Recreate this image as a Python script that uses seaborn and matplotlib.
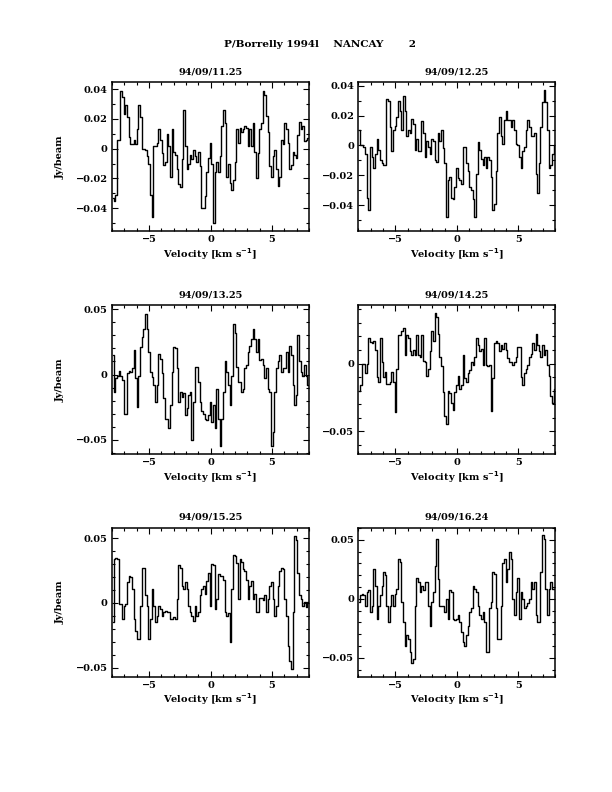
import numpy as np
import pandas as pd
import seaborn as sns
import matplotlib.pyplot as plt
from matplotlib.ticker import MultipleLocator, FuncFormatter

# Spectres NANCAY, P/Borrelly 1994l (Jy/beam, canaux reguliers de -8 a 8 km/s)
dates = ["94/09/11.25", "94/09/12.25", "94/09/13.25",
         "94/09/14.25", "94/09/15.25", "94/09/16.24"]

spec_1125 = [-0.033, -0.035, -0.031, 0.006, 0.006, 0.039, 0.035, 0.023, 0.029, 0.021,
             0.008, 0.003, 0.003, 0.006, 0.003, 0.013, 0.029, 0.021, 0.000, 0.000,
             -0.001, -0.005, -0.010, -0.031, -0.046, 0.002, 0.002, 0.004, 0.013, 0.006,
             -0.003, -0.011, -0.009, 0.010, 0.002, -0.019, 0.013, -0.002, -0.004, -0.014,
             -0.024, -0.026, -0.007, 0.026, 0.002, -0.014, -0.010, -0.004, -0.007, -0.001,
             -0.005, -0.009, -0.002, -0.012, -0.040, -0.040, -0.032, -0.016, -0.006, 0.004,
             -0.010, -0.050, -0.016, -0.009, -0.016, -0.005, 0.015, 0.026, 0.017, -0.019,
             -0.010, -0.023, -0.028, -0.021, -0.009, 0.013, 0.004, 0.014, 0.011, 0.013,
             0.015, 0.014, 0.002, 0.013, 0.002, 0.017, -0.002, -0.020, -0.003, 0.013,
             0.017, 0.039, 0.036, 0.022, 0.011, -0.012, -0.019, -0.005, -0.001, -0.014,
             -0.025, -0.019, 0.006, 0.003, 0.017, 0.013, 0.004, -0.014, -0.011, -0.002,
             -0.004, -0.006, 0.009, 0.018, 0.013, 0.015, 0.005, 0.006, 0.007]

spec_1225 = [0.010, 0.000, 0.000, -0.001, -0.006, -0.035, -0.043, -0.001, -0.008, -0.015,
             -0.006, 0.004, -0.003, -0.010, -0.012, -0.013, -0.013, 0.031, 0.030, 0.012,
             -0.004, 0.010, 0.013, 0.019, 0.030, 0.023, 0.010, 0.033, 0.023, 0.006,
             0.010, 0.008, 0.018, 0.014, -0.003, 0.004, -0.004, -0.004, 0.016, 0.008,
             -0.008, 0.003, -0.001, -0.006, 0.004, 0.003, -0.010, -0.011, 0.008, 0.003,
             0.010, -0.002, -0.012, -0.048, -0.023, -0.021, -0.035, -0.036, -0.028, -0.015,
             -0.022, -0.023, -0.026, -0.001, -0.001, -0.012, -0.017, -0.028, -0.030, -0.036,
             -0.048, -0.019, 0.002, -0.003, -0.009, -0.013, -0.008, -0.015, -0.008, -0.010,
             -0.021, -0.043, -0.039, -0.017, 0.008, 0.019, 0.006, 0.001, 0.017, 0.023,
             0.017, 0.017, 0.012, 0.017, 0.010, 0.001, 0.000, -0.008, -0.015, -0.004,
             -0.001, 0.010, 0.017, 0.012, 0.006, 0.006, 0.008, -0.019, -0.032, -0.012,
             0.012, 0.029, 0.037, 0.029, 0.010, -0.015, -0.013, -0.006, 0.000]

spec_1325 = [0.015, -0.013, -0.003, -0.001, 0.003, -0.001, -0.004, -0.030, -0.030, 0.001,
             0.003, 0.002, 0.005, 0.019, -0.003, -0.025, -0.001, 0.021, 0.029, 0.035,
             0.046, 0.035, 0.017, 0.002, -0.002, -0.008, -0.021, -0.008, 0.016, 0.012,
             0.001, -0.018, -0.034, -0.034, -0.041, -0.023, 0.002, 0.021, 0.020, 0.005,
             -0.021, -0.013, -0.017, -0.014, -0.031, -0.026, -0.016, -0.013, -0.050, -0.021,
             0.006, 0.006, -0.006, -0.021, -0.028, -0.030, -0.034, -0.035, -0.031, -0.021,
             -0.036, -0.023, -0.041, -0.011, -0.034, -0.055, -0.034, -0.013, 0.010, 0.002,
             -0.008, -0.023, -0.001, 0.039, 0.032, 0.006, -0.006, -0.006, -0.013, -0.011,
             0.005, 0.007, 0.017, 0.022, 0.027, 0.035, 0.027, 0.017, 0.027, 0.011,
             0.012, 0.007, -0.003, 0.005, -0.011, -0.013, -0.055, -0.044, -0.013, 0.005,
             0.010, 0.015, 0.002, 0.005, 0.005, 0.017, 0.002, 0.022, 0.015, -0.008,
             -0.023, -0.016, 0.030, 0.010, 0.002, -0.001, 0.007, -0.001, -0.008]

spec_1425 = [-0.020, -0.016, 0.000, 0.000, -0.007, 0.000, 0.019, 0.016, 0.015, 0.017,
             0.010, -0.010, -0.014, 0.019, 0.001, -0.010, -0.006, -0.015, -0.015, -0.014,
             -0.006, -0.014, -0.036, -0.004, 0.021, 0.021, 0.024, 0.026, 0.006, 0.021,
             0.019, 0.009, 0.006, 0.010, 0.006, 0.021, 0.006, 0.005, 0.021, 0.002,
             0.001, -0.009, -0.004, 0.009, 0.024, 0.017, 0.037, 0.034, 0.022, 0.005,
             -0.002, -0.021, -0.039, -0.045, -0.020, -0.022, -0.029, -0.034, -0.021, -0.016,
             -0.009, -0.019, -0.016, 0.006, -0.011, -0.014, -0.007, -0.005, 0.001, -0.001,
             0.005, 0.019, 0.014, 0.009, 0.011, -0.001, 0.019, -0.001, -0.002, -0.001,
             -0.035, -0.011, 0.015, 0.017, 0.015, 0.009, 0.014, 0.011, 0.015, 0.010,
             0.004, 0.001, 0.001, -0.001, 0.001, 0.005, 0.012, 0.012, -0.010, -0.016,
             -0.007, -0.004, -0.001, 0.005, 0.007, 0.015, 0.010, 0.022, 0.014, 0.009,
             0.005, 0.014, 0.006, 0.010, -0.001, -0.009, -0.024, -0.029, -0.019]

spec_1525 = [-0.015, 0.034, 0.035, 0.034, -0.001, -0.001, -0.012, -0.002, -0.001, 0.016,
             0.021, 0.020, 0.011, -0.012, -0.022, -0.028, -0.028, -0.002, 0.027, 0.027,
             0.006, -0.002, -0.028, -0.012, 0.011, -0.002, -0.015, -0.010, -0.002, -0.005,
             -0.010, -0.007, -0.006, -0.007, -0.007, -0.012, -0.012, -0.011, -0.012, 0.003,
             0.029, 0.027, 0.013, 0.011, 0.016, 0.011, -0.002, -0.007, -0.010, -0.014,
             -0.002, -0.010, -0.007, 0.006, 0.011, 0.013, 0.007, 0.017, 0.023, -0.002,
             0.030, 0.029, -0.005, 0.003, 0.022, 0.021, 0.021, 0.018, -0.007, -0.010,
             -0.008, -0.030, 0.011, 0.037, 0.036, 0.031, 0.003, 0.034, 0.032, 0.026,
             0.025, 0.018, 0.003, 0.013, 0.017, 0.003, 0.007, -0.007, -0.007, 0.004,
             0.004, 0.002, 0.006, -0.007, 0.003, 0.013, 0.016, 0.003, -0.010, -0.002,
             0.013, 0.025, 0.027, 0.026, 0.003, -0.010, -0.033, -0.045, -0.051, -0.007,
             0.052, 0.049, 0.023, 0.006, 0.003, -0.002, 0.001, -0.003, 0.001]

spec_1624 = [-0.003, 0.003, 0.004, 0.003, -0.006, 0.006, 0.007, -0.011, -0.006, 0.025,
             0.011, -0.017, -0.006, 0.003, 0.011, 0.023, 0.020, -0.006, -0.020, -0.006,
             0.003, -0.006, 0.004, 0.008, 0.034, 0.031, -0.003, -0.020, -0.040, -0.031,
             -0.034, -0.045, -0.054, -0.051, -0.006, 0.018, 0.014, 0.006, 0.011, 0.007,
             0.014, 0.014, -0.006, -0.023, -0.003, 0.006, 0.028, 0.051, 0.017, -0.006,
             -0.006, -0.006, -0.011, 0.000, -0.017, 0.007, 0.006, -0.017, -0.018, -0.017,
             -0.014, -0.020, -0.028, -0.037, -0.040, -0.031, -0.023, -0.011, -0.008, 0.011,
             0.008, 0.006, -0.006, -0.014, -0.017, -0.011, -0.020, -0.045, -0.045, -0.008,
             -0.003, 0.023, 0.021, -0.008, -0.034, -0.034, -0.006, 0.030, 0.034, 0.014,
             0.025, 0.040, 0.034, 0.000, -0.014, 0.006, 0.018, -0.017, 0.006, 0.000,
             -0.008, -0.006, -0.004, 0.000, 0.014, 0.008, 0.014, -0.014, -0.020, -0.020,
             0.023, 0.054, 0.051, 0.008, -0.014, 0.008, 0.014, 0.008, 0.008]

spectres = [spec_1125, spec_1225, spec_1325, spec_1425, spec_1525, spec_1624]
ylims = [(-0.0555, 0.0445), (-0.0575, 0.0422), (-0.061, 0.053),
         (-0.067, 0.043), (-0.057, 0.058), (-0.066, 0.060)]
ymajor = [0.02, 0.02, 0.05, 0.05, 0.05, 0.05]

sns.set_style("ticks")
plt.rcParams["font.family"] = ["DejaVu Serif"]
plt.rcParams["font.size"] = 7
plt.rcParams["font.weight"] = "bold"
plt.rcParams["text.color"] = "black"
plt.rcParams["axes.labelcolor"] = "black"
plt.rcParams["axes.labelweight"] = "bold"
plt.rcParams["xtick.color"] = "black"
plt.rcParams["ytick.color"] = "black"

fig = plt.figure(figsize=(6.12, 7.92), dpi=100)
fig.text(0.523, 0.944, "P/Borrelly 1994l    NANCAY       2",
         ha="center", va="center", fontsize=7.5, fontweight="bold")

lefts = [0.183, 0.5855]
bottoms = [0.708, 0.4265, 0.1455]


def fmt(v, pos):
    if abs(v) < 1e-9:
        return "0"
    return ("%g" % round(v, 3)).replace("-", "\u2212")


for i, (date, vals) in enumerate(zip(dates, spectres)):
    ax = fig.add_axes([lefts[i % 2], bottoms[i // 2], 0.322, 0.188])
    n = len(vals)
    edges = np.linspace(-8, 8, n + 1)
    df = pd.DataFrame({"vel": (edges[:-1] + edges[1:]) / 2, "flux": vals})
    sns.lineplot(data=df, x="vel", y="flux", ax=ax, color="black",
                 drawstyle="steps-mid", estimator=None, sort=False, lw=1.0)
    ax.set_xlim(-8, 8)
    ax.set_ylim(*ylims[i])
    ax.xaxis.set_major_locator(MultipleLocator(5))
    ax.xaxis.set_minor_locator(MultipleLocator(1))
    ax.yaxis.set_major_locator(MultipleLocator(ymajor[i]))
    ax.yaxis.set_minor_locator(MultipleLocator(0.01))
    ax.yaxis.set_major_formatter(FuncFormatter(fmt))
    ax.tick_params(which="both", direction="in", top=True, right=True,
                   color="black", labelsize=7, width=0.8)
    ax.tick_params(which="major", length=4.5, pad=3)
    ax.tick_params(which="minor", length=2.2)
    for s in ax.spines.values():
        s.set_linewidth(1.1)
        s.set_color("black")
    ax.set_xlabel("Velocity [km s$^{-1}$]", fontsize=7, labelpad=1)
    if i % 2 == 0:
        ax.set_ylabel("Jy/beam", fontsize=7)
        ax.yaxis.set_label_coords(-0.24, 0.5)
    else:
        ax.set_ylabel("")
    ax.text(0.5, 1.07, date, transform=ax.transAxes, ha="center",
            va="center", fontsize=7, fontweight="bold")

fig.savefig("out.png", dpi=100)
